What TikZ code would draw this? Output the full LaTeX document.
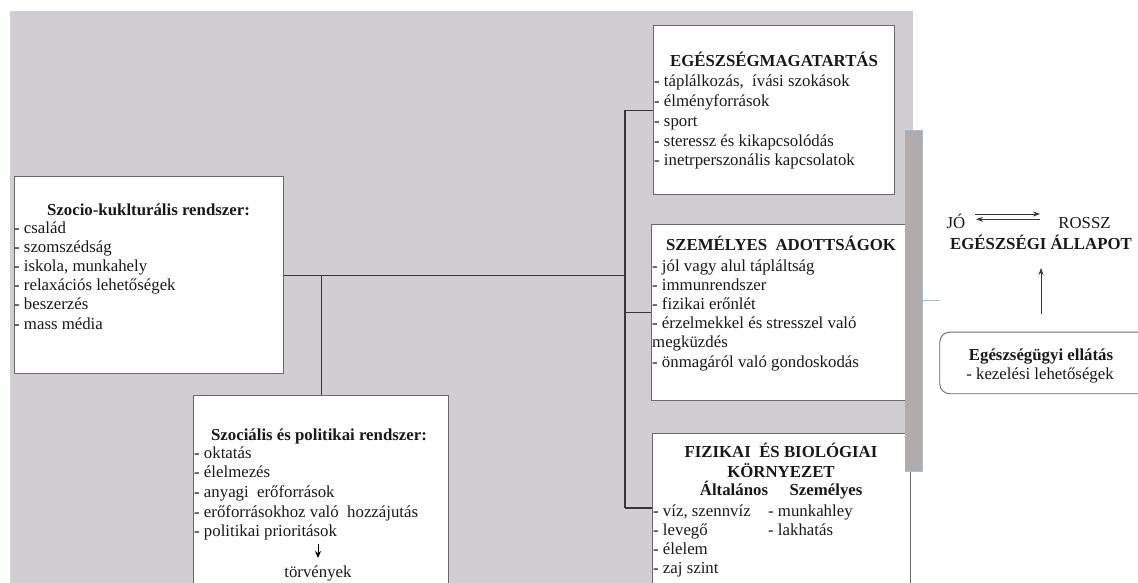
\documentclass[tikz,border=0pt]{standalone}
\usepackage{fontspec}
\setmainfont{Liberation Serif}
\usetikzlibrary{arrows.meta}
\definecolor{bggray}{RGB}{208,206,208}
\definecolor{bargray}{RGB}{176,172,172}
\definecolor{edgeblue}{RGB}{155,190,225}
\definecolor{boxedge}{RGB}{105,105,105}
\definecolor{linecol}{RGB}{55,55,55}
\definecolor{txtcol}{RGB}{25,25,25}
\begin{document}
\begin{tikzpicture}[x=1pt,y=-1pt,
  box/.style={draw=boxedge, line width=1.2pt, fill=white, inner sep=0pt, anchor=north west},
  txt/.style={font=\fontsize{16.8}{19}\selectfont, text=txtcol, inner sep=0pt, anchor=base west},
  ctxt/.style={font=\fontsize{16.8}{19}\selectfont, text=txtcol, inner sep=0pt, anchor=base},
  ttl/.style={font=\fontsize{16.8}{19}\selectfont\bfseries, text=txtcol, inner sep=0pt, anchor=base},
  conn/.style={draw=linecol, line width=1.1pt},
  arr/.style={draw=linecol, line width=0.8pt, -{Stealth[length=7pt,width=5pt]}},
]
\useasboundingbox (0,0) rectangle (1138,583);
\clip (0,0) rectangle (1138,583);
\fill[white] (0,0) rectangle (1138,583);
\fill[bggray] (10,11) rectangle (913,590);

% boxes
\node[box, minimum width=269pt, minimum height=197pt] (szocio) at (14,176) {};
\node[box, minimum width=255pt, minimum height=210pt] (social) at (193,395) {};
\node[box, minimum width=241pt, minimum height=169pt] (egeszseg) at (653,25) {};
\node[box, minimum width=256pt, minimum height=176pt] (szemelyes) at (651,224) {};
\node[box, minimum width=258pt, minimum height=170pt] (fizikai) at (652,433) {};
\fill[white] (911,472) rectangle (914,590);

% connectors
\coordinate (tx) at (625,0);
\coordinate (jF) at (625,508);
\draw[conn] (tx |- egeszseg.west) -- (jF);
\draw[conn] (tx |- egeszseg.west) -- (egeszseg.west);
\draw[conn] (tx |- szemelyes.west) -- (szemelyes.west);
\draw[conn] (jF) -- (jF -| fizikai.west);
\draw[conn] (szocio.east) -- (tx |- szocio.east);
\draw[conn] (social.north) -- (social.north |- szocio.east);

% Szocio-kulturalis
\node[ttl] (szT) at (148.5,215) {Szocio-kukltur\'alis rendszer:};
\foreach \t [count=\i] in {{- család},{- szomszédság},{- iskola, munkahely},{- relaxációs lehetőségek},{- beszerzés},{- mass média}}
  \node[txt] (sz\i) at (14,{233+19.2*(\i-1)}) {\t};

% Szocialis es politikai
\node[ttl] (soT) at (319,440) {Szociális és politikai rendszer:};
\foreach \t [count=\i] in {{- oktatás},{- élelmezés},{- anyagi\ \ erőforrások},{- erőforrásokhoz való\ \ hozzájutás},{- politikai prioritások}}
  \node[txt] (so\i) at (194,{458+19.7*(\i-1)}) {\t};
\coordinate (pa1) at (318,544);
\coordinate (pa2) at (318,558);
\draw[draw=black, line width=0.9pt, -{Stealth[length=7pt,width=6pt]}] (pa1) -- (pa2);
\node[ctxt] (torv) at (318,577) {törvények};

% Egeszsegmagatartas
\node[ttl] (egT) at (774,67) {EGÉSZSÉGMAGATARTÁS};
\foreach \t [count=\i] in {{- táplálkozás,\ \ ívási szokások},{- élményforrások},{- sport},{- steressz és kikapcsolódás},{- inetrperszonális kapcsolatok}}
  \node[txt] (eg\i) at (654,{87+19.7*(\i-1)}) {\t};

% Szemelyes adottsagok
\node[ttl] (seT) at (781,250) {SZEMÉLYES\ \ ADOTTSÁGOK};
\foreach \t [count=\i] in {{- jól vagy alul tápláltság},{- immunrendszer},{- fizikai erőnlét},{- érzelmekkel és stresszel való},{megküzdés},{- önmagáról való gondoskodás}}
  \node[txt] (se\i) at (652,{271+19.2*(\i-1)}) {\t};

% Fizikai es biologiai kornyezet
\node[ttl] (fiT1) at (781,457) {FIZIKAI\ \ ÉS BIOLÓGIAI};
\node[ttl] (fiT2) at (781,477) {KÖRNYEZET};
\node[ttl] (fiA) at (734,495) {Általános};
\node[ttl] (fiS) at (826,495) {Személyes};
\foreach \t [count=\i] in {{- víz, szennvíz},{- levegő},{- élelem},{- zaj szint}}
  \node[txt] (fi\i) at (653,{516+19.3*(\i-1)}) {\t};
\node[txt] (fr1) at (768,516) {- munkahley};
\node[txt] (fr2) at (768,535.3) {- lakhatás};

% dark bar
\fill[bargray] (905,130) rectangle (922,471);
\draw[edgeblue, line width=0.8pt] (905,130) -- (922,130) -- (922,471) -- (905,471);
\draw[edgeblue, line width=1pt] (922,300.7) -- (940,300.7);

% right side
\node[ctxt] (jo) at (956,228) {JÓ};
\node[ctxt] (rossz) at (1084.5,228) {ROSSZ};
\node[ttl] (allapot) at (1041,249) {EGÉSZSÉGI ÁLLAPOT};
\coordinate (a1) at (975,214);
\coordinate (a2) at (1040,214);
\coordinate (b1) at (976,219.3);
\coordinate (b2) at (1040,219.3);
\draw[arr] (a1) -- (a2);
\draw[arr] (b2) -- (b1);

\node[draw=boxedge, line width=0.9pt, rounded corners=10pt, fill=white, inner sep=0pt, anchor=north west, minimum width=210pt, minimum height=61.6pt] (care) at (939.3,331.7) {};
\node[ttl] (careT) at (1041,360) {Egészségügyi ellátás};
\node[ctxt] (careI) at (1040,379) {- kezelési lehetőségek};
\coordinate (u1) at (1041,314);
\coordinate (u2) at (1041,268);
\draw[arr] (u1) -- (u2);
\end{tikzpicture}
\end{document}
